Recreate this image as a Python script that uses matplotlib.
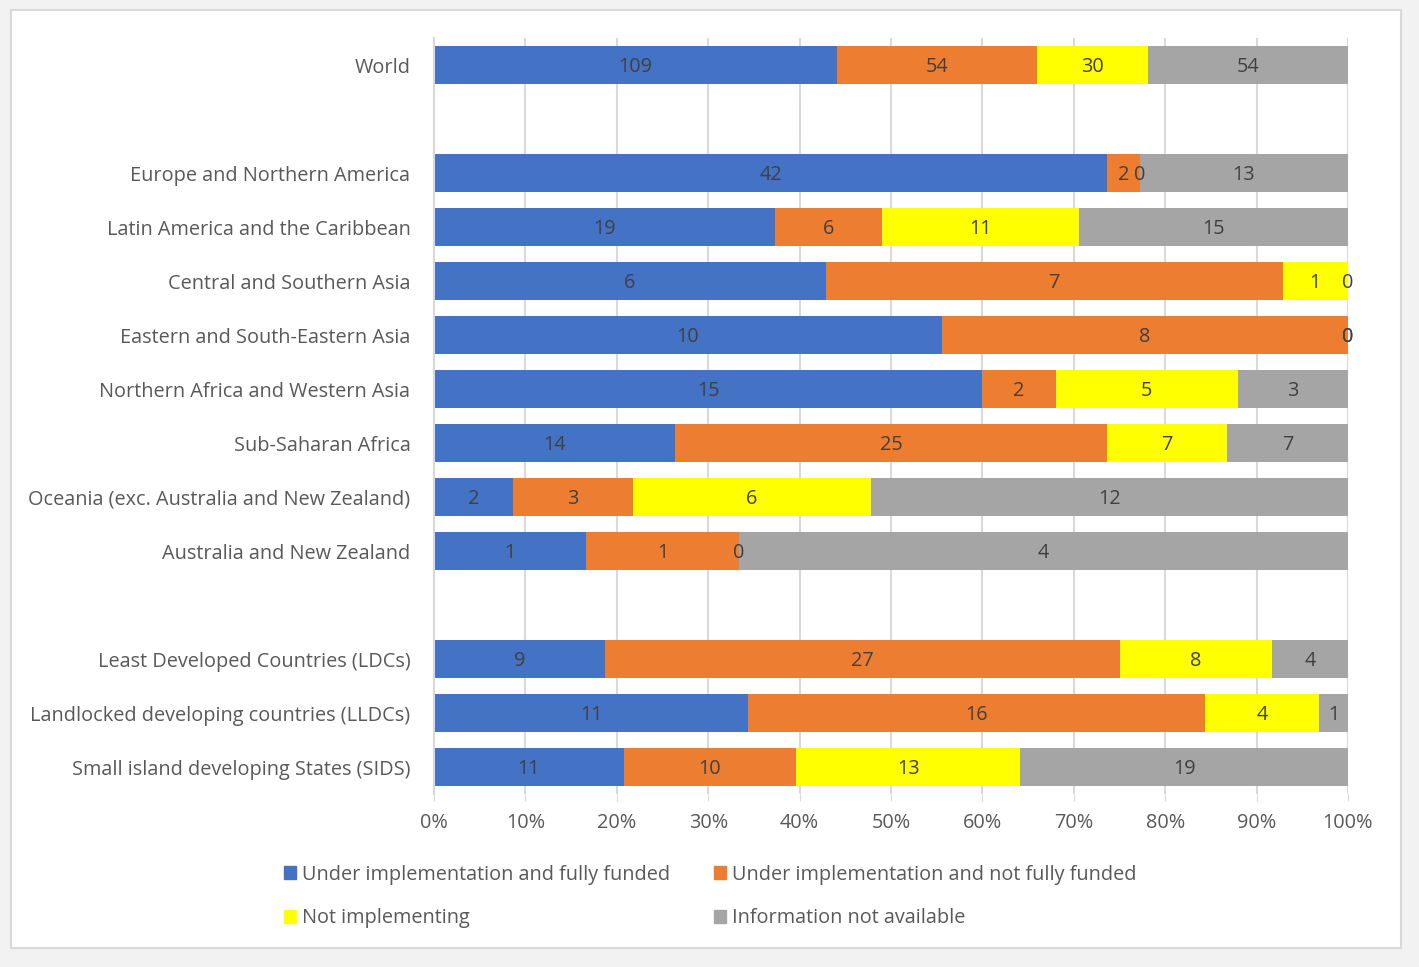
import matplotlib.pyplot as plt
from matplotlib.patches import Rectangle, Patch
from matplotlib.ticker import PercentFormatter

plt.rcParams['font.family'] = ['Open Sans', 'DejaVu Sans']

regions = ['World', '',
           'Europe and Northern America',
           'Latin America and the Caribbean',
           'Central and Southern Asia',
           'Eastern and South-Eastern Asia',
           'Northern Africa and Western Asia',
           'Sub-Saharan Africa',
           'Oceania (exc. Australia and New Zealand)',
           'Australia and New Zealand', '',
           'Least Developed Countries (LDCs)',
           'Landlocked developing countries (LLDCs)',
           'Small island developing States (SIDS)']

# None marks the spacer rows
funded     = [109, None, 42, 19, 6, 10, 15, 14, 2, 1, None, 9, 11, 11]
not_funded = [54, None, 2, 6, 7, 8, 2, 25, 3, 1, None, 27, 16, 10]
not_impl   = [30, None, 0, 11, 1, 0, 5, 7, 6, 0, None, 8, 4, 13]
no_info    = [54, None, 13, 15, 0, 0, 3, 7, 12, 4, None, 4, 1, 19]

series = [
    ('Under implementation and fully funded', funded, '#4472c4'),
    ('Under implementation and not fully funded', not_funded, '#ed7d31'),
    ('Not implementing', not_impl, '#ffff00'),
    ('Information not available', no_info, '#a5a5a5'),
]

FS = 14.3

fig = plt.figure(figsize=(14.19, 9.67), dpi=100, facecolor='#f2f2f2')
fig.patches.append(Rectangle((11 / 1419, 1 - 948 / 967), 1390 / 1419, 938 / 967,
                             transform=fig.transFigure, facecolor='white',
                             edgecolor='#d9d9d9', linewidth=1.5, zorder=-5))

ax = fig.add_axes([434 / 1419, 1 - 794 / 967, 914 / 1419, 756 / 967])
ax.set_facecolor('none')

rows = list(range(len(regions)))
totals = []
for i in rows:
    if funded[i] is None:
        totals.append(None)
    else:
        totals.append(funded[i] + not_funded[i] + not_impl[i] + no_info[i])

left = [0.0] * len(rows)
for name, vals, color in series:
    for i in rows:
        if vals[i] is None:
            continue
        share = vals[i] / totals[i] * 100
        ax.barh(i, share, left=left[i], height=0.72, color=color, zorder=2)
        ax.text(left[i] + share / 2, i + 0.03, str(vals[i]), ha='center',
                va='center', fontsize=FS, color='#404040', zorder=3)
        left[i] += share

ax.set_xlim(0, 100)
ax.set_ylim(len(rows) - 0.5, -0.5)
ax.set_yticks(rows)
ax.set_yticklabels(regions, fontsize=FS, color='#595959')
ax.set_xticks(range(0, 101, 10))
ax.xaxis.set_major_formatter(PercentFormatter(decimals=0))
ax.tick_params(axis='x', labelsize=FS, labelcolor='#595959', color='#d9d9d9',
               length=5, pad=9)
ax.tick_params(axis='y', length=0, pad=17)
ax.grid(axis='x', color='#d9d9d9', linewidth=1.5, zorder=1)
for side in ['top', 'right', 'bottom']:
    ax.spines[side].set_visible(False)
ax.spines['left'].set_color('#d9d9d9')
ax.spines['left'].set_linewidth(1.5)

handles = [Patch(color=c, label=n) for n, _, c in series]
order = [0, 2, 1, 3]
fig.legend([handles[k] for k in order], [series[k][0] for k in order],
           loc='center', bbox_to_anchor=(710.5 / 1419, 1 - 896.5 / 967), ncol=2,
           frameon=False, fontsize=FS, labelcolor='#595959',
           handlelength=0.6, handleheight=0.6, handletextpad=0.3,
           columnspacing=2.2, labelspacing=1.2)

fig.savefig('out.png', dpi=100, facecolor=fig.get_facecolor())
